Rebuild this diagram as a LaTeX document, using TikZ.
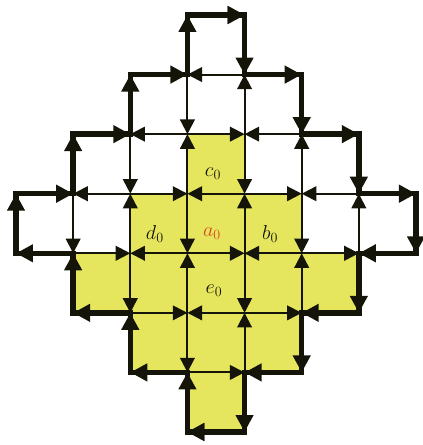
\documentclass[tikz,border=0pt]{standalone}
\usepackage{tikz}
\usetikzlibrary{arrows.meta,calc}
\definecolor{dgyellow}{HTML}{E6E65E}
\definecolor{dgred}{HTML}{D9481E}
\definecolor{dgink}{HTML}{141408}
\tikzset{
  lnk/.style={-{Triangle[length=12.5pt,width=12.5pt]},line width=1.7pt,dgink},
  bnd/.style={-{Triangle[length=14.5pt,width=14.5pt]},line width=4.6pt,dgink},
  rim/.style={line width=4.6pt,dgink,line join=miter},
  cell/.style={fill=dgyellow},
  lab/.style={font=\LARGE,text=dgink,inner sep=0pt},
}
\begin{document}
\begin{tikzpicture}[x=0.03cm,y=-0.03cm]
  \useasboundingbox (0,0) rectangle (423,445);
  % lattice points v<col><row>
  \foreach \i in {0,...,7}
    \foreach \j in {0,...,7}
      \coordinate (v\i\j) at ({16+57.14*\i},{15+59.57*\j});
  % shaded cells
  \fill[cell] (v32) -- (v42) -- (v43) -- (v53) -- (v54) -- (v64) -- (v65)
    -- (v55) -- (v56) -- (v46) -- (v47) -- (v37) -- (v36) -- (v26) -- (v25)
    -- (v15) -- (v14) -- (v24) -- (v23) -- (v33) -- cycle;
  % inner horizontal links, towards the even vertex
  \foreach \j/\a/\b in {1/3/3,2/2/4,3/1/5,4/1/5,5/2/4,6/3/3}
    \foreach \i in {\a,...,\b}{
      \pgfmathtruncatemacro\ps{\i+1-mod(\i+\j,2)}
      \pgfmathtruncatemacro\pe{\i+mod(\i+\j,2)}
      \draw[lnk] (v\ps\j) -- (v\pe\j);
    }
  % inner vertical links, towards the odd vertex
  \foreach \j/\a/\b in {1/3/4,2/2/5,3/1/6,4/2/5,5/3/4}
    \foreach \i in {\a,...,\b}{
      \pgfmathtruncatemacro\ps{\j+mod(\i+\j,2)}
      \pgfmathtruncatemacro\pe{\j+1-mod(\i+\j,2)}
      \draw[lnk] (v\i\ps) -- (v\i\pe);
    }
  % outer rim
  \draw[rim] (v30) -- (v40) -- (v41) -- (v51) -- (v52) -- (v62) -- (v63)
    -- (v73) -- (v74) -- (v64) -- (v65) -- (v55) -- (v56) -- (v46) -- (v47)
    -- (v37) -- (v36) -- (v26) -- (v25) -- (v15) -- (v14) -- (v04) -- (v03)
    -- (v13) -- (v12) -- (v22) -- (v21) -- (v31) -- cycle;
  \foreach \j/\a/\b in {0/3/3,1/2/4,2/1/5,3/0/6,4/0/6,5/1/5,6/2/4,7/3/3}
    \foreach \i in {\a,\b}{
      \pgfmathtruncatemacro\ps{\i+1-mod(\i+\j,2)}
      \pgfmathtruncatemacro\pe{\i+mod(\i+\j,2)}
      \draw[bnd] (v\ps\j) -- (v\pe\j);
    }
  \foreach \j/\a/\b in {0/3/4,1/2/5,2/1/6,3/0/7,4/1/6,5/2/5,6/3/4}
    \foreach \i in {\a,\b}{
      \pgfmathtruncatemacro\ps{\j+mod(\i+\j,2)}
      \pgfmathtruncatemacro\pe{\j+1-mod(\i+\j,2)}
      \draw[bnd] (v\i\ps) -- (v\i\pe);
    }
  % cell labels
  \node[lab] (c0) at ($(v32)!.5!(v43)+(-3,10)$) {$c_0$};
  \node[lab] (d0) at ($(v23)!.5!(v34)+(-4,10)$) {$d_0$};
  \node[lab,text=dgred] (a0) at ($(v33)!.5!(v44)+(-4,10)$) {$a_0$};
  \node[lab] (b0) at ($(v43)!.5!(v54)+(-3,10)$) {$b_0$};
  \node[lab] (e0) at ($(v34)!.5!(v45)+(-2,8)$) {$e_0$};
\end{tikzpicture}
\end{document}
